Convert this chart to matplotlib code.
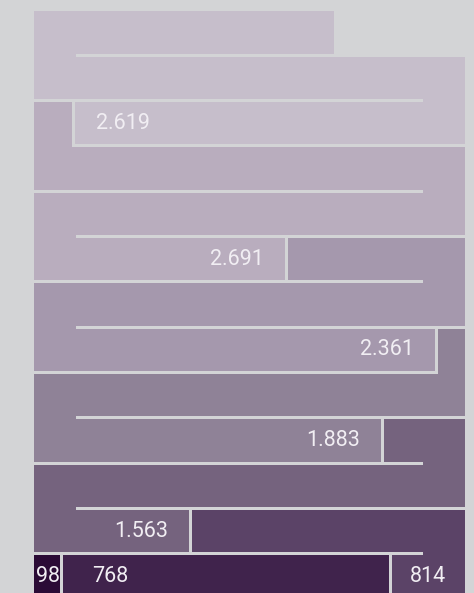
import matplotlib
matplotlib.use("Agg")
import matplotlib.pyplot as plt
from matplotlib.patches import Rectangle

# values laid out along a serpentine path, starting bottom-left
values = [98, 768, 814, 1563, 1883, 2361, 2691, 2619]
colors = ["#2b0b36", "#40234c", "#5b4367", "#75637e",
          "#8f8297", "#a598ad", "#b9adbe", "#c6becb"]

BG = "#d3d4d6"
TEXT = "#f1eef3"

ROW_UNITS = 1005      # units held by one row
LEAD_IN = 35          # the path enters from left of the first row
N_ROWS = 13
ROW_H = 0.934         # bar height as a fraction of the row pitch
GAP_X = 7             # gap between cells, in units
TURN = 99             # width of the turn joining two rows, in units
LABEL_LEAD = 115      # label centre distance from a cell's start


def fmt(v):
    return f"{v:,}".replace(",", ".")


def to_xy(p):
    k = int(p // ROW_UNITS)
    local = p - k * ROW_UNITS
    x = local if k % 2 == 0 else ROW_UNITS - local
    return x, k


def row_pieces(a, b):
    # split a path interval into (row, x0, x1) pieces
    pieces = []
    k = int(max(a, 0) // ROW_UNITS)
    while k * ROW_UNITS < b and k < N_ROWS:
        lo = max(a, k * ROW_UNITS, 0) - k * ROW_UNITS
        hi = min(b, (k + 1) * ROW_UNITS) - k * ROW_UNITS
        # inset only where the edge sits inside a row
        if lo > 0:
            lo += GAP_X / 2
        if hi < ROW_UNITS:
            hi -= GAP_X / 2
        if k % 2 == 1:
            lo, hi = ROW_UNITS - hi, ROW_UNITS - lo
        pieces.append((k, lo, hi))
        k += 1
    return pieces


fig = plt.figure(figsize=(4.74, 5.93), dpi=100, facecolor=BG)
ax = fig.add_axes([34 / 474, -4.6 / 593, 431 / 474, 586.3 / 593])
ax.set_facecolor(BG)
ax.set_xlim(0, ROW_UNITS)
ax.set_ylim(0, N_ROWS - 1 + ROW_H)
ax.axis("off")

start = -LEAD_IN
for v, c in zip(values, colors):
    end = start + v
    pieces = row_pieces(start, end)
    for k, x0, x1 in pieces:
        ax.add_patch(Rectangle((x0, k), x1 - x0, ROW_H, facecolor=c,
                               linewidth=0, clip_on=False))
    # fill the gap where the cell turns up into the next row
    for (k, a0, a1), (_, b0, b1) in zip(pieces, pieces[1:]):
        z0, z1 = (ROW_UNITS - TURN, ROW_UNITS) if k % 2 == 0 else (0, TURN)
        lo = max(z0, a0, b0)
        hi = min(z1, a1, b1)
        if hi > lo:
            ax.add_patch(Rectangle((lo, k + ROW_H), hi - lo, 1 - ROW_H,
                                   facecolor=c, linewidth=0, clip_on=False))
    # label near the start of the cell
    s0 = max(start, 0)
    first_len = min(end, (int(s0 // ROW_UNITS) + 1) * ROW_UNITS) - s0
    lx, lk = to_xy(s0 + min(LABEL_LEAD, first_len / 2))
    ax.text(lx, lk + ROW_H / 2, fmt(v), color=TEXT, fontsize=15.5,
            family="Roboto", ha="center", va="center")
    start = end

fig.savefig("out.png", dpi=100, facecolor=BG)
